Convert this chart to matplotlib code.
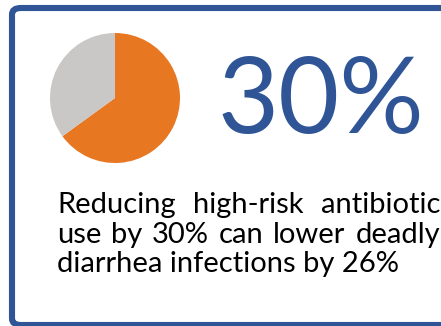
import matplotlib.pyplot as plt
from matplotlib.patches import FancyBboxPatch

# datos
porcentajes = [65, 35]
colores = ['#E87722', '#C9C8C7']
titulo = "30%"
lineas = ["Reducing high-risk antibiotic",
          "use by 30% can lower deadly",
          "diarrhea infections by 26%"]
justificar = [True, True, False]

W, H = 441, 326
fig = plt.figure(figsize=(W / 100, H / 100), dpi=100)
fig.patch.set_facecolor('white')

def fx(px):
    return px / W

def fy(py):
    return 1 - py / H

# marco azul
marco = FancyBboxPatch((fx(12), fy(325)), fx(460) - fx(12), fy(8) - fy(325),
                       boxstyle="round,pad=0,rounding_size=0.02",
                       transform=fig.transFigure, facecolor='none',
                       edgecolor='#2F5597', linewidth=4.4, clip_on=False)
fig.patches.append(marco)

# pastel
cx, cy, r = 115, 98, 65
ax = fig.add_axes([fx(cx - r), fy(cy + r), (2 * r) / W, (2 * r) / H])
ax.pie(porcentajes, colors=colores, startangle=90, counterclock=False,
       wedgeprops=dict(linewidth=0))
ax.set_xlim(-1, 1)
ax.set_ylim(-1, 1)
ax.set_aspect('equal')
ax.axis('off')

fuente = 'Lato'
fig.text(fx(217), fy(133), titulo, fontsize=76, color='#2F5597',
         family=fuente, ha='left', va='baseline')

# texto justificado
x0, x1 = 57, 440
base = [213, 243, 272]
tam = 21
fig.canvas.draw()
rend = fig.canvas.get_renderer()
for linea, y, just in zip(lineas, base, justificar):
    if not just:
        fig.text(fx(x0), fy(y), linea, fontsize=tam, family=fuente,
                 color='black', ha='left', va='baseline')
        continue
    palabras = linea.split()
    anchos = []
    objs = []
    for p in palabras:
        t = fig.text(0, fy(y), p, fontsize=tam, family=fuente,
                     color='black', ha='left', va='baseline')
        anchos.append(t.get_window_extent(rend).width)
        objs.append(t)
    hueco = (x1 - x0 - sum(anchos)) / (len(palabras) - 1)
    x = x0
    for t, a in zip(objs, anchos):
        t.set_x(fx(x))
        x += a + hueco

fig.savefig('out.png', dpi=100)
